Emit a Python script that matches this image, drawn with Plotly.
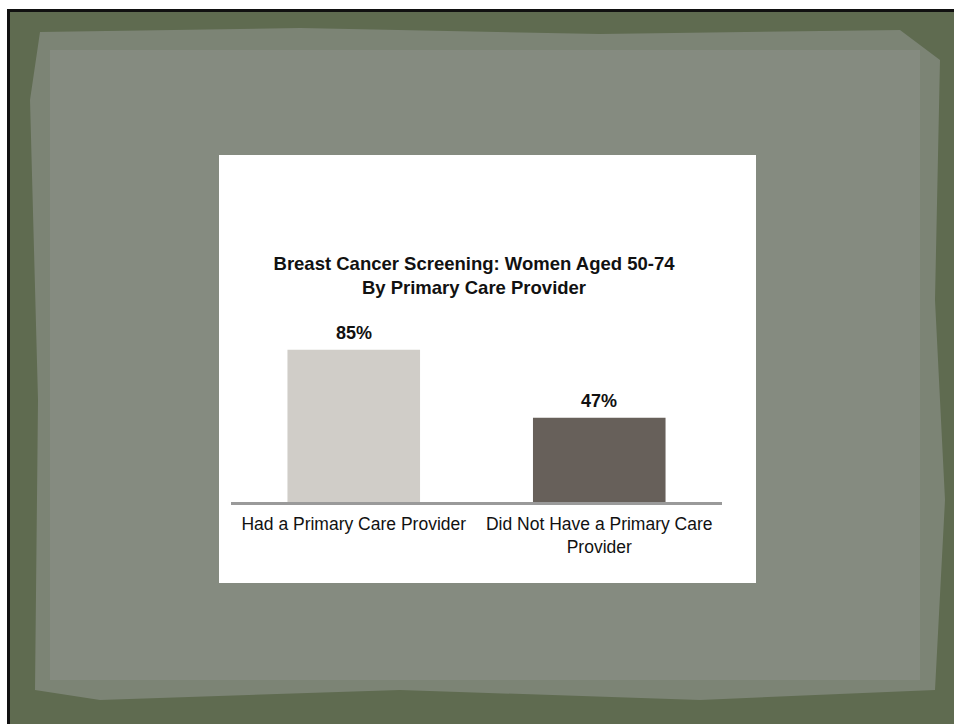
import plotly.graph_objects as go

categories = ["Had a Primary Care Provider", "Did Not Have a Primary Care<br>Provider"]
values = [85, 47]
labels = ["85%", "47%"]
bar_colors = ["#d0cdc8", "#67605a"]

W, Hh = 954, 724
L, R, T, B = 231, 232, 323, 222
PW = W - L - R
PH = Hh - T - B

def px(x):
    return (x - L) / PW

def py(y):
    return (Hh - B - y) / PH

fig = go.Figure()
fig.add_trace(go.Bar(
    x=categories, y=values, width=0.54,
    marker=dict(color=bar_colors, line=dict(width=0)),
    hoverinfo="skip",
))

for c, v, t in zip(categories, values, labels):
    fig.add_annotation(
        x=c, y=v, text=f"<b>{t}</b>", showarrow=False,
        xanchor="center", yanchor="bottom", yshift=5,
        font=dict(family="Liberation Sans, Arial", size=18, color="#111111"),
    )

shapes = [
    dict(type="rect", xref="paper", yref="paper", x0=px(7), x1=px(960), y0=py(9), y1=py(730),
         fillcolor="#111111", line=dict(width=0), layer="below"),
    dict(type="rect", xref="paper", yref="paper", x0=px(10), x1=px(960), y0=py(12), y1=py(730),
         fillcolor="#5f6b50", line=dict(width=0), layer="below"),
    dict(type="path", xref="paper", yref="paper",
         path=" ".join([
             f"M {px(40)},{py(32)}",
             f"L {px(300)},{py(28)}",
             f"L {px(600)},{py(34)}",
             f"L {px(900)},{py(30)}",
             f"L {px(940)},{py(60)}",
             f"L {px(935)},{py(300)}",
             f"L {px(945)},{py(500)}",
             f"L {px(935)},{py(690)}",
             f"L {px(700)},{py(700)}",
             f"L {px(400)},{py(690)}",
             f"L {px(100)},{py(700)}",
             f"L {px(35)},{py(690)}",
             f"L {px(38)},{py(400)}",
             f"L {px(30)},{py(100)} Z",
         ]),
         fillcolor="#7c8475", line=dict(width=0), layer="below"),
    dict(type="rect", xref="paper", yref="paper", x0=px(50), x1=px(920), y0=py(50), y1=py(680),
         fillcolor="#858b80", line=dict(width=0), layer="below"),
    dict(type="rect", xref="paper", yref="paper", x0=px(219), x1=px(756), y0=py(155), y1=py(583),
         fillcolor="#ffffff", line=dict(width=0), layer="below"),
]

fig.update_layout(
    width=W, height=Hh,
    margin=dict(l=L, r=R, t=T, b=B, pad=0),
    paper_bgcolor="#ffffff",
    plot_bgcolor="rgba(0,0,0,0)",
    showlegend=False,
    shapes=shapes,
    title=dict(
        text="<b>Breast Cancer Screening: Women Aged 50-74<br>By Primary Care Provider</b>",
        x=px(474), xref="paper", xanchor="center",
        y=1 - 270 / Hh, yref="container", yanchor="top",
        font=dict(family="Liberation Sans, Arial", size=18.5, color="#111111"),
    ),
    xaxis=dict(
        range=[-0.5, 1.5], showline=True, linecolor="#9a9a9a", linewidth=2.5,
        ticks="", showgrid=False, zeroline=False, ticklabelstandoff=4,
        tickfont=dict(family="Liberation Sans, Arial", size=17.5, color="#111111"),
    ),
    yaxis=dict(range=[0, 100], visible=False, showgrid=False, zeroline=False),
)

fig.write_html("out.html", config={"displayModeBar": False},
               post_script="document.body.style.margin='0px';document.body.style.overflow='hidden';")
